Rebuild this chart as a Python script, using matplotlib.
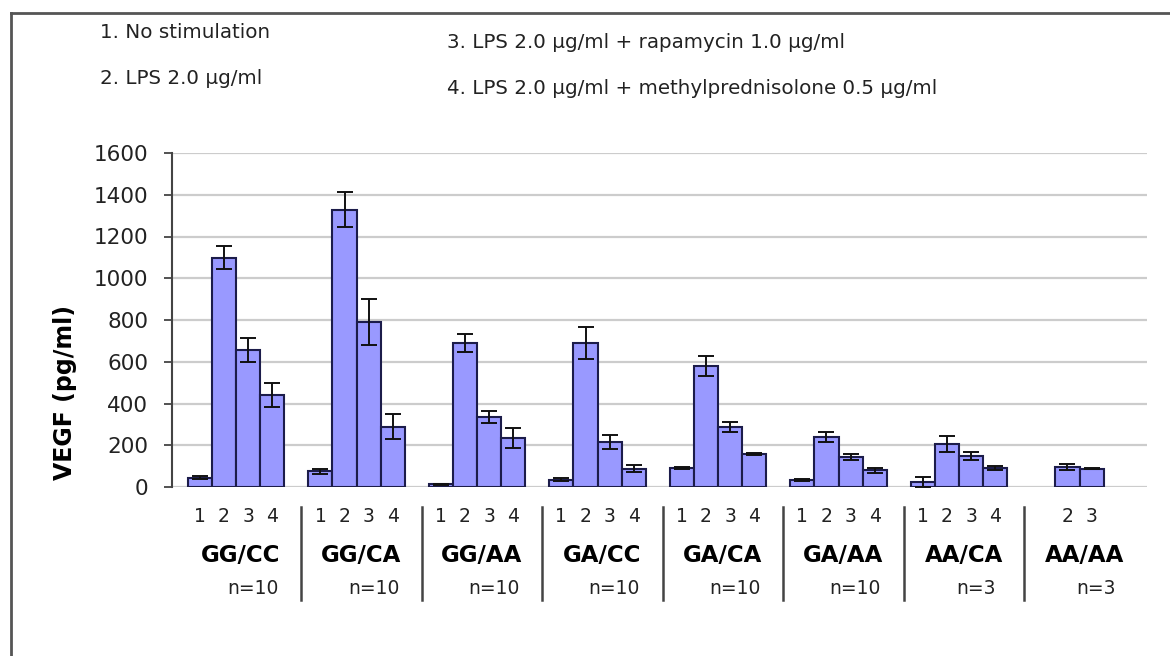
import numpy as np
import matplotlib.pyplot as plt
from matplotlib.lines import Line2D

# Values (VEGF, pg/ml)
genotypes = ["GG/CC", "GG/CA", "GG/AA", "GA/CC", "GA/CA", "GA/AA", "AA/CA", "AA/AA"]
n_labels = ["n=10", "n=10", "n=10", "n=10", "n=10", "n=10", "n=3", "n=3"]
treatments = ["1", "2", "3", "4"]
nan = np.nan
vegf_mean = [
    [45, 1099, 655, 439],
    [75, 1329, 790, 288],
    [12, 690, 335, 235],
    [35, 690, 216, 88],
    [91, 580, 288, 157],
    [32, 240, 144, 80],
    [24, 205, 147, 91],
    [nan, 96, 88, nan],
]
vegf_err = [
    [8, 55, 57, 57],
    [12, 85, 110, 60],
    [3, 45, 30, 48],
    [8, 77, 35, 16],
    [5, 48, 24, 4],
    [4, 24, 13, 12],
    [24, 38, 20, 8],
    [nan, 16, 3, nan],
]
legend_lines = [
    "1. No stimulation",
    "2. LPS 2.0 \u00b5g/ml",
    "3. LPS 2.0 \u00b5g/ml + rapamycin 1.0 \u00b5g/ml",
    "4. LPS 2.0 \u00b5g/ml + methylprednisolone 0.5 \u00b5g/ml",
]

W, H = 1170, 656
fig = plt.figure(figsize=(W / 100, H / 100), dpi=100)
ax = fig.add_axes([172 / W, 1 - 487 / H, (1147 - 172) / W, (487 - 153) / H])

pitch = 5.0
means = np.array(vegf_mean, dtype=float)
errs = np.array(vegf_err, dtype=float)
n_groups, n_bars = means.shape
x = np.arange(n_groups)[:, None] * pitch + np.arange(n_bars)[None, :]

mask = ~np.isnan(means)
ax.bar(x[mask], means[mask], width=1.0, color="#9999ff", edgecolor="#1c1c4a",
       linewidth=1.5, zorder=3)
ax.errorbar(x[mask], means[mask], yerr=errs[mask], fmt="none", ecolor="#111111",
            elinewidth=1.4, capsize=5.5, capthick=1.4, zorder=4)

ax.set_ylim(0, 1600)
ax.set_xlim(-1.16, 39.3)
ax.set_yticks(np.arange(0, 1601, 200))
ax.set_xticks([])
ax.tick_params(axis="y", direction="out", length=6, width=1.3, color="#444444",
               labelsize=15.5, labelcolor="#222222", pad=11)
ax.yaxis.grid(True, color="#cccccc", linewidth=1.6, zorder=0)
ax.set_axisbelow(True)
for s in ["top", "right", "bottom"]:
    ax.spines[s].set_visible(False)
ax.spines["left"].set_color("#444444")
ax.spines["left"].set_linewidth(1.5)

# category labels under the axis
trans = ax.get_xaxis_transform()
def ay(py):
    return (487 - py) / 334

for g in range(n_groups):
    for i in range(n_bars):
        if mask[g, i]:
            ax.text(x[g, i], ay(517), treatments[i], transform=trans, ha="center",
                    va="center", fontsize=13.5, color="#222222", clip_on=False)
    gc = g * pitch + 1.5
    ax.text(gc + 0.2, ay(555), genotypes[g], transform=trans, ha="center",
            va="center", fontsize=16.5, fontweight="heavy", clip_on=False)
    ax.text(gc + 0.7, ay(588), n_labels[g], transform=trans, ha="center",
            va="center", fontsize=13.5, color="#222222", clip_on=False)
    if g < n_groups - 1:
        ax.add_line(Line2D([g * pitch + 4.2] * 2, [ay(507), ay(600)], transform=trans,
                           color="#444444", linewidth=1.8, clip_on=False))

fig.text(65 / W, 1 - 392 / H, "VEGF (pg/ml)", rotation=90, ha="center", va="center",
         fontsize=17, fontweight="bold")

# treatment key at the top
key_pos = [(100, 32), (100, 78), (447, 42), (447, 88)]
for (px, py), txt in zip(key_pos, legend_lines):
    fig.text(px / W, 1 - py / H, txt, ha="left", va="center", fontsize=14.3,
             color="#222222")

# outer frame (top and left edges visible in the crop)
fig.add_artist(Line2D([11 / W, 1], [1 - 13 / H] * 2, color="#555555", linewidth=2))
fig.add_artist(Line2D([11 / W] * 2, [0, 1 - 13 / H], color="#555555", linewidth=2))

fig.savefig("out.png", dpi=100)
